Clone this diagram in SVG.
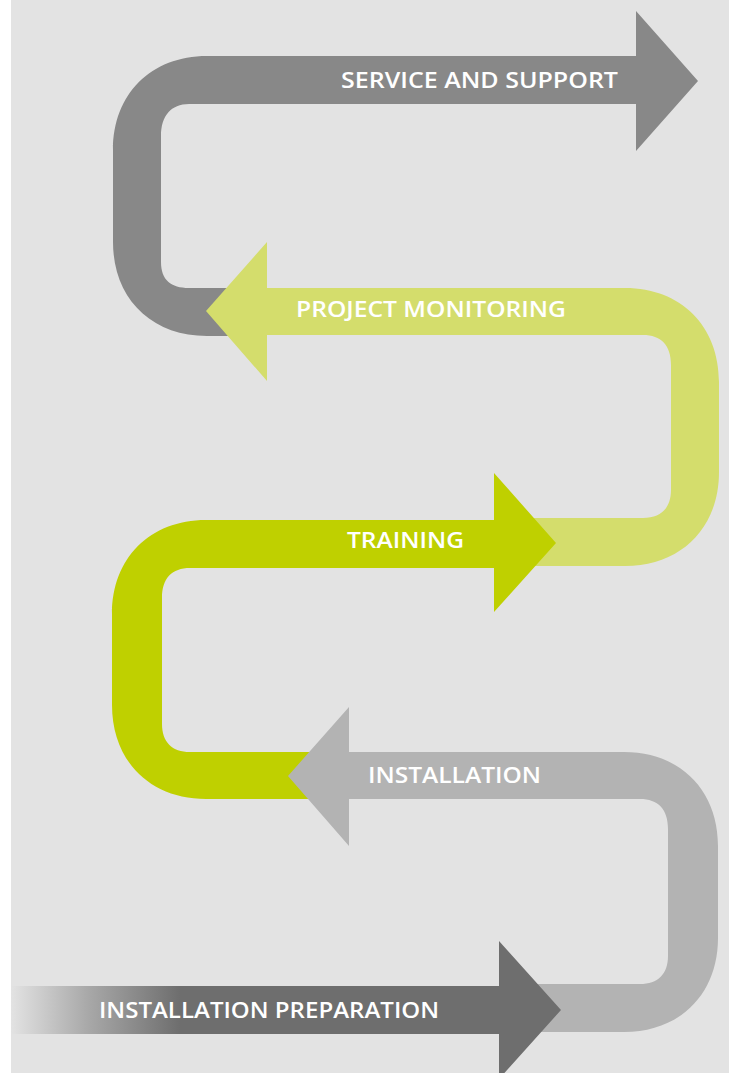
<svg xmlns="http://www.w3.org/2000/svg" width="729" height="1073" viewBox="0 0 729 1073">
  <defs>
    <linearGradient id="fade" gradientUnits="userSpaceOnUse" x1="11" y1="0" x2="180" y2="0">
      <stop offset="0" stop-color="#e3e3e3"/>
      <stop offset="0.45" stop-color="#a9a9a9"/>
      <stop offset="1" stop-color="#6e6e6e"/>
    </linearGradient>
    <style>
      .lbl { font-family: "Open Sans", Lato, "Liberation Sans", sans-serif; font-weight: 600; font-size: 21px; fill: #ffffff; }
    </style>
  </defs>
  <rect x="0" y="0" width="729" height="1073" fill="#ffffff"/>
  <rect x="11" y="0" width="718" height="1073" fill="#e3e3e3"/>

  <g id="connectors">
    <g id="service-and-support">
      <path fill="#888888" d="M 636 56 V 11 L 698 81 L 636 151 V 104 H 189 C 171 104 161 116 161 136 V 262 C 161 280 171 288 189 288 H 240 V 336 H 207 C 151 336 113 298 113 242 V 150 C 113 94 151 56 207 56 Z"/>
      <text class="lbl" x="341" y="88" textLength="277" lengthAdjust="spacingAndGlyphs">SERVICE AND SUPPORT</text>
    </g>
    <g id="project-monitoring">
      <path fill="#d4dd6c" d="M 267 288 V 242 L 206 311 L 267 381 V 335 H 643 C 661 335 671 345 671 365 V 490 C 671 508 661 518 643 518 H 530 V 566 H 625 C 681 566 719 528 719 472 V 382 C 719 326 681 288 625 288 Z"/>
      <text class="lbl" x="296" y="317" textLength="270" lengthAdjust="spacingAndGlyphs">PROJECT MONITORING</text>
    </g>
    <g id="training">
      <path fill="#bfd000" d="M 494 520 V 473 L 556 543 L 494 612 V 568 H 190 C 172 568 162 578 162 598 V 724 C 162 742 172 752 190 752 H 310 V 799 H 206 C 150 799 112 761 112 705 V 614 C 112 558 150 520 206 520 Z"/>
      <text class="lbl" x="347" y="548" textLength="117" lengthAdjust="spacingAndGlyphs">TRAINING</text>
    </g>
    <g id="installation">
      <path fill="#b3b3b3" d="M 349 752 V 707 L 288 776 L 349 846 V 799 H 640 C 658 799 668 809 668 829 V 956 C 668 974 658 984 640 984 H 530 V 1032 H 624 C 680 1032 718 994 718 938 V 846 C 718 790 680 752 624 752 Z"/>
      <text class="lbl" x="368" y="783" textLength="173" lengthAdjust="spacingAndGlyphs">INSTALLATION</text>
    </g>
    <g id="installation-preparation">
      <rect x="11" y="986" width="170" height="48" fill="url(#fade)"/>
      <path fill="#6e6e6e" d="M 180 986 H 499 V 941 L 561 1010 L 499 1079 V 1034 H 180 Z"/>
      <text class="lbl" x="99" y="1018" textLength="340" lengthAdjust="spacingAndGlyphs">INSTALLATION PREPARATION</text>
    </g>
  </g>
</svg>
